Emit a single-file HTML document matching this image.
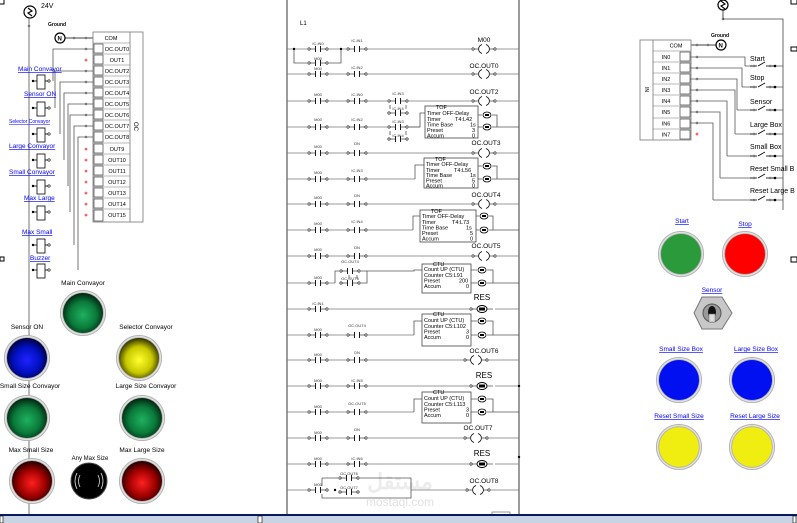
<!DOCTYPE html>
<html><head><meta charset="utf-8"><style>
html,body{margin:0;padding:0;background:#fff;width:797px;height:523px;overflow:hidden}
svg{display:block;font-family:"Liberation Sans",sans-serif}
.l{font-size:4px;fill:#333}
.t{font-size:6px;fill:#000}
.b{font-size:6.5px;fill:#000}
.lk{font-size:7px;fill:#00f;text-decoration:underline}
.lb{font-size:7px;fill:#000}
</style></head><body>
<svg width="797" height="523" viewBox="0 0 797 523" xmlns="http://www.w3.org/2000/svg">
<defs>
<g id="ct"><rect x="-11" y="-4" width="22" height="8" fill="#fff"/><line x1="-9" y1="0" x2="-3" y2="0" stroke="#555" stroke-width="0.8"/><line x1="3" y1="0" x2="9" y2="0" stroke="#555" stroke-width="0.8"/><line x1="-2.5" y1="-3" x2="-2.5" y2="3" stroke="#000" stroke-width="0.9"/><line x1="2.5" y1="-3" x2="2.5" y2="3" stroke="#000" stroke-width="0.9"/><circle cx="-9" cy="0" r="1.2" fill="#fff" stroke="#000" stroke-width="0.6"/><circle cx="9" cy="0" r="1.2" fill="#fff" stroke="#000" stroke-width="0.6"/></g>
<g id="co"><rect x="-13" y="-5" width="26" height="10" fill="#fff"/><line x1="-11" y1="0" x2="-6" y2="0" stroke="#555" stroke-width="0.8"/><line x1="6" y1="0" x2="11" y2="0" stroke="#555" stroke-width="0.8"/><path d="M-2,-4.5 A6,5 0 0 0 -2,4.5 M2,-4.5 A6,5 0 0 1 2,4.5" fill="none" stroke="#000" stroke-width="0.8"/><circle cx="-11" cy="0" r="1.2" fill="#fff" stroke="#000" stroke-width="0.6"/><circle cx="11" cy="0" r="1.2" fill="#fff" stroke="#000" stroke-width="0.6"/></g>
<g id="rs"><rect x="-13" y="-5" width="26" height="10" fill="#fff"/><line x1="-11" y1="0" x2="11" y2="0" stroke="#555" stroke-width="0.8"/><ellipse cx="0" cy="0" rx="5" ry="3.5" fill="#fff" stroke="#000" stroke-width="0.9"/><rect x="-3" y="-1.5" width="6" height="3" fill="#000"/><circle cx="-11" cy="0" r="1.2" fill="#fff" stroke="#000" stroke-width="0.6"/></g>
<g id="en"><rect x="-5" y="-3.5" width="10" height="7" fill="#fff"/><ellipse cx="0" cy="0" rx="4" ry="3" fill="#fff" stroke="#000" stroke-width="0.8"/><rect x="-2" y="-1" width="4" height="2" fill="#000"/></g>
<g id="rl"><rect x="-4" y="-6" width="8" height="14" fill="#fff" stroke="#000" stroke-width="0.8"/><line x1="-8" y1="0" x2="-4" y2="0" stroke="#000" stroke-width="0.8"/><line x1="4" y1="0" x2="8" y2="0" stroke="#000" stroke-width="0.8"/><circle cx="8" cy="0" r="1.2" fill="#fff" stroke="#000" stroke-width="0.6"/><circle cx="-8" cy="0" r="1.2" fill="#000"/></g>
<g id="sw"><line x1="-12" y1="0" x2="-5" y2="0" stroke="#000" stroke-width="0.8"/><line x1="-4" y1="0" x2="3" y2="-4" stroke="#000" stroke-width="0.8"/><line x1="4" y1="0" x2="12" y2="0" stroke="#000" stroke-width="0.8"/><circle cx="-8" cy="0" r="1" fill="#fff" stroke="#000" stroke-width="0.5"/><circle cx="8" cy="0" r="1" fill="#fff" stroke="#000" stroke-width="0.5"/><circle cx="13" cy="0" r="1.3" fill="#000"/></g>
<g id="pw"><path d="M-2,-4 L2,-1 L-2,1 L2,4" fill="none" stroke="#000" stroke-width="1.1"/></g>
<radialGradient id="gG" cx="50%" cy="55%" r="55%"><stop offset="0" stop-color="#1fb060"/><stop offset="0.6" stop-color="#0a7a3a"/><stop offset="1" stop-color="#02240f"/></radialGradient>
<radialGradient id="gB" cx="50%" cy="55%" r="55%"><stop offset="0" stop-color="#2222ff"/><stop offset="0.6" stop-color="#0010c0"/><stop offset="1" stop-color="#000038"/></radialGradient>
<radialGradient id="gY" cx="50%" cy="55%" r="55%"><stop offset="0" stop-color="#ffff30"/><stop offset="0.6" stop-color="#c8c800"/><stop offset="1" stop-color="#2e2e00"/></radialGradient>
<radialGradient id="gR" cx="50%" cy="55%" r="55%"><stop offset="0" stop-color="#ff2020"/><stop offset="0.6" stop-color="#a00000"/><stop offset="1" stop-color="#200000"/></radialGradient>
<radialGradient id="ring" cx="50%" cy="50%" r="50%"><stop offset="0.85" stop-color="#888"/><stop offset="0.93" stop-color="#eee"/><stop offset="1" stop-color="#999"/></radialGradient>
</defs>

<rect x="-2" y="-2" width="6" height="6" fill="#fff" stroke="#000"/>
<rect x="0" y="257" width="4" height="4" fill="#fff" stroke="#000"/>
<rect x="791" y="-2" width="6" height="6" fill="#fff" stroke="#000"/>
<rect x="791" y="47" width="6" height="4" fill="#fff" stroke="#000"/>

<!-- LEFT OUTPUT MODULE -->
<circle cx="30" cy="12" r="6" fill="#fff" stroke="#000" stroke-width="1.2"/><use href="#pw" x="30" y="12"/>
<text x="41" y="8" class="t" style="font-size:7px">24V</text>
<line x1="29" y1="18" x2="29" y2="523" stroke="#666" stroke-width="0.9"/>
<circle cx="29" cy="26" r="1" fill="#fff" stroke="#000" stroke-width="0.5"/>
<text x="48" y="26" class="t" style="font-size:5px;font-weight:bold">Ground</text>
<circle cx="60" cy="38" r="5" fill="#fff" stroke="#000" stroke-width="1.2"/><text x="57.5" y="40.5" style="font-size:6px;font-weight:bold">N</text>
<line x1="65" y1="38" x2="93" y2="38" stroke="#000" stroke-width="0.7"/>
<circle cx="74" cy="38" r="1" fill="#fff" stroke="#000" stroke-width="0.5"/><circle cx="86" cy="38" r="1" fill="#fff" stroke="#000" stroke-width="0.5"/>

<rect x="93" y="32" width="50" height="190" fill="#fff" stroke="#777" stroke-width="0.8"/>
<line x1="130" y1="32" x2="130" y2="222" stroke="#777" stroke-width="0.8"/>
<g stroke="#777" stroke-width="0.6">
<line x1="93" y1="43" x2="130" y2="43"/><line x1="93" y1="54" x2="130" y2="54"/><line x1="93" y1="65" x2="130" y2="65"/><line x1="93" y1="76" x2="130" y2="76"/><line x1="93" y1="87" x2="130" y2="87"/><line x1="93" y1="98" x2="130" y2="98"/><line x1="93" y1="109" x2="130" y2="109"/><line x1="93" y1="120" x2="130" y2="120"/><line x1="93" y1="131" x2="130" y2="131"/><line x1="93" y1="143" x2="130" y2="143"/><line x1="93" y1="154" x2="130" y2="154"/><line x1="93" y1="165" x2="130" y2="165"/><line x1="93" y1="176" x2="130" y2="176"/><line x1="93" y1="187" x2="130" y2="187"/><line x1="93" y1="198" x2="130" y2="198"/><line x1="93" y1="209" x2="130" y2="209"/>
</g>
<g fill="#fff" stroke="#444" stroke-width="0.7">
<rect x="94" y="44" width="9" height="9"/><rect x="94" y="55" width="9" height="9"/><rect x="94" y="66" width="9" height="9"/><rect x="94" y="77" width="9" height="9"/><rect x="94" y="88" width="9" height="9"/><rect x="94" y="99" width="9" height="9"/><rect x="94" y="110" width="9" height="9"/><rect x="94" y="121" width="9" height="9"/><rect x="94" y="132" width="9" height="10"/><rect x="94" y="144" width="9" height="9"/><rect x="94" y="155" width="9" height="9"/><rect x="94" y="166" width="9" height="9"/><rect x="94" y="177" width="9" height="9"/><rect x="94" y="188" width="9" height="9"/><rect x="94" y="199" width="9" height="9"/><rect x="94" y="210" width="9" height="11"/>
</g>
<g class="t" style="font-size:5.5px" text-anchor="middle">
<text x="111" y="40">COM</text><text x="117" y="51">OC.OUT0</text><text x="117" y="62">OUT1</text><text x="117" y="73">OC.OUT2</text><text x="117" y="84">OC.OUT3</text><text x="117" y="95">OC.OUT4</text><text x="117" y="106">OC.OUT5</text><text x="117" y="117">OC.OUT6</text><text x="117" y="128">OC.OUT7</text><text x="117" y="139">OC.OUT8</text><text x="117" y="151">OUT9</text><text x="117" y="162">OUT10</text><text x="117" y="173">OUT11</text><text x="117" y="184">OUT12</text><text x="117" y="195">OUT13</text><text x="117" y="206">OUT14</text><text x="117" y="217">OUT15</text>
</g>
<text x="0" y="0" class="t" transform="translate(134,122) rotate(90)">OC</text>
<g fill="#fff" stroke="#e00" stroke-width="0.6"><circle cx="86" cy="60" r="1"/><circle cx="86" cy="149" r="1"/><circle cx="86" cy="160" r="1"/><circle cx="86" cy="171" r="1"/><circle cx="86" cy="182" r="1"/><circle cx="86" cy="193" r="1"/><circle cx="86" cy="204" r="1"/><circle cx="86" cy="215" r="1"/></g>
<g fill="none" stroke="#555" stroke-width="0.8">
<polyline points="53,81 53,49 93,49"/><polyline points="55,108 55,71 93,71"/><polyline points="60,134 60,82 93,82"/><polyline points="64,160 64,93 93,93"/><polyline points="68,186 68,104 93,104"/><polyline points="70,212 70,115 93,115"/><polyline points="74,245 74,126 93,126"/><polyline points="78,270 78,137 93,137"/>
</g>
<g fill="#fff" stroke="#000" stroke-width="0.5"><circle cx="86" cy="49" r="1"/><circle cx="86" cy="71" r="1"/><circle cx="86" cy="82" r="1"/><circle cx="86" cy="93" r="1"/><circle cx="86" cy="104" r="1"/><circle cx="86" cy="115" r="1"/><circle cx="86" cy="126" r="1"/><circle cx="86" cy="137" r="1"/></g>
<use href="#rl" x="41" y="81"/><use href="#rl" x="41" y="108"/><use href="#rl" x="41" y="134"/><use href="#rl" x="41" y="160"/><use href="#rl" x="41" y="186"/><use href="#rl" x="41" y="212"/><use href="#rl" x="41" y="245"/><use href="#rl" x="41" y="270"/>
<g class="lk" style="font-size:6.5px">
<text x="18" y="71">Main Convayor</text><text x="24" y="96">Sensor ON</text><text x="9" y="123" style="font-size:5px">Selector Convayor</text><text x="9" y="148">Large Convayor</text><text x="9" y="174">Small Convayor</text><text x="24" y="200">Max Large</text><text x="22" y="234">Max Small</text><text x="30" y="260">Buzzer</text>
</g>

<g class="lb" text-anchor="middle" style="font-size:6.5px">
<text x="83" y="285">Main Convayor</text><text x="27" y="329">Sensor ON</text><text x="146" y="329">Selector Convayor</text><text x="30" y="388">Small Size Convayor</text><text x="146" y="388">Large Size Convayor</text><text x="31" y="452">Max Small Size</text><text x="90" y="460" style="font-size:6px">Any Max Size</text><text x="142" y="452">Max Large Size</text>
</g>
<circle cx="83" cy="313" r="23" fill="url(#ring)"/><circle cx="83" cy="313" r="20" fill="url(#gG)"/>
<circle cx="27" cy="358" r="23" fill="url(#ring)"/><circle cx="27" cy="358" r="20" fill="url(#gB)"/>
<circle cx="139" cy="358" r="23" fill="url(#ring)"/><circle cx="139" cy="358" r="20" fill="url(#gY)"/>
<circle cx="27" cy="418" r="23" fill="url(#ring)"/><circle cx="27" cy="418" r="20" fill="url(#gG)"/>
<circle cx="142" cy="418" r="23" fill="url(#ring)"/><circle cx="142" cy="418" r="20" fill="url(#gG)"/>
<circle cx="32" cy="481" r="23" fill="url(#ring)"/><circle cx="32" cy="481" r="20" fill="url(#gR)"/>
<circle cx="142" cy="481" r="23" fill="url(#ring)"/><circle cx="142" cy="481" r="20" fill="url(#gR)"/>
<circle cx="89" cy="481" r="18" fill="#000" stroke="#444"/>
<g fill="none" stroke="#ddd" stroke-width="0.8"><path d="M80,475 Q77,481 80,487 M77,473 Q73,481 77,489 M98,475 Q101,481 98,487 M101,473 Q105,481 101,489"/></g>

<!-- LADDER -->
<text x="300" y="25" class="t" style="font-size:6px">L1</text>
<line x1="287" y1="0" x2="287" y2="515" stroke="#222" stroke-width="0.9"/>
<line x1="519" y1="0" x2="519" y2="515" stroke="#222" stroke-width="0.9"/>
<g stroke="#777" stroke-width="0.8">
<line x1="287" y1="49" x2="519" y2="49"/><line x1="287" y1="74" x2="519" y2="74"/><line x1="287" y1="101" x2="519" y2="101"/><line x1="287" y1="127" x2="420" y2="127"/><line x1="287" y1="153" x2="519" y2="153"/><line x1="287" y1="179" x2="415" y2="179"/><line x1="287" y1="204" x2="519" y2="204"/><line x1="287" y1="230" x2="413" y2="230"/><line x1="287" y1="256" x2="519" y2="256"/><line x1="287" y1="283" x2="335" y2="283"/><line x1="287" y1="309" x2="519" y2="309"/><line x1="287" y1="335" x2="414" y2="335"/><line x1="287" y1="360" x2="519" y2="360"/><line x1="287" y1="386" x2="519" y2="386"/><line x1="287" y1="412" x2="414" y2="412"/><line x1="287" y1="438" x2="519" y2="438"/><line x1="287" y1="464" x2="519" y2="464"/><line x1="287" y1="490" x2="322" y2="490"/><line x1="411" y1="490" x2="519" y2="490"/>
</g>
<g fill="none" stroke="#555" stroke-width="0.8">
<polyline points="294,49 294,63 341,63 341,49"/>
<polyline points="390,101 390,113 406,113 406,101"/><polyline points="390,127 390,139 406,139 406,127"/>
<polyline points="406,127 420,127 420,113 425,113"/>
<polyline points="415,179 415,165 424,165"/><polyline points="413,230 413,216 420,216"/>
<polyline points="335,283 335,271 349,271 349,283 349,271 357,271 357,283"/><polyline points="341,271 367,271"/><polyline points="341,283 367,283 367,271 414,271 414,270 422,270"/>
<polyline points="414,335 414,321 422,321"/><polyline points="414,412 414,399 422,399"/>
<polyline points="322,478 322,498 411,498 411,478 322,478"/>
<polyline points="478,115 497,115 497,127 519,127"/><polyline points="478,127 497,127"/>
<polyline points="478,166 497,166 497,179 519,179"/><polyline points="478,179 497,179"/>
<polyline points="476,216 493,216 493,230 519,230"/><polyline points="476,230 493,230"/>
<polyline points="471,270 493,270 493,283 519,283"/><polyline points="471,283 493,283"/>
<polyline points="471,321 493,321 493,335 519,335"/><polyline points="471,335 493,335"/>
<polyline points="471,399 493,399 493,412 519,412"/><polyline points="471,412 493,412"/>
</g>
<g fill="#000"><circle cx="294" cy="49" r="1.2"/><circle cx="341" cy="49" r="1.2"/><circle cx="390" cy="101" r="1.2"/><circle cx="406" cy="101" r="1.2"/><circle cx="390" cy="127" r="1.2"/><circle cx="406" cy="127" r="1.2"/><circle cx="349" cy="271" r="1.2"/><circle cx="349" cy="283" r="1.2"/><circle cx="335" cy="490" r="1.2"/><circle cx="519" cy="386" r="1.2"/><circle cx="519" cy="457" r="1.2"/></g>
<use href="#ct" x="318" y="49"/><use href="#ct" x="357" y="49"/><use href="#ct" x="318" y="63"/>
<use href="#ct" x="318" y="74"/><use href="#ct" x="357" y="74"/>
<use href="#ct" x="318" y="101"/><use href="#ct" x="357" y="101"/><use href="#ct" x="398" y="101"/><use href="#ct" x="398" y="113"/>
<use href="#ct" x="318" y="127"/><use href="#ct" x="357" y="127"/><use href="#ct" x="398" y="127"/><use href="#ct" x="398" y="139"/>
<use href="#ct" x="318" y="153"/><use href="#ct" x="357" y="153"/>
<use href="#ct" x="318" y="179"/><use href="#ct" x="357" y="179"/>
<use href="#ct" x="318" y="204"/><use href="#ct" x="357" y="204"/>
<use href="#ct" x="318" y="230"/><use href="#ct" x="357" y="230"/>
<use href="#ct" x="318" y="256"/><use href="#ct" x="357" y="256"/>
<use href="#ct" x="318" y="283"/><use href="#ct" x="350" y="271"/><use href="#ct" x="350" y="283"/>
<use href="#ct" x="318" y="309"/>
<use href="#ct" x="318" y="335"/><use href="#ct" x="357" y="335"/>
<use href="#ct" x="318" y="360"/><use href="#ct" x="357" y="360"/>
<use href="#ct" x="318" y="386"/><use href="#ct" x="357" y="386"/>
<use href="#ct" x="318" y="412"/><use href="#ct" x="357" y="412"/>
<use href="#ct" x="318" y="438"/><use href="#ct" x="357" y="438"/>
<use href="#ct" x="318" y="464"/><use href="#ct" x="357" y="464"/>
<use href="#ct" x="318" y="490"/><use href="#ct" x="349" y="478"/><use href="#ct" x="349" y="492"/>
<g class="l" text-anchor="middle">
<text x="318" y="45">IC.IN0</text><text x="357" y="42">IC.IN1</text><text x="318" y="60">M00</text>
<text x="318" y="70">M00</text><text x="357" y="69">IC.IN2</text>
<text x="318" y="96">M00</text><text x="357" y="96">IC.IN0</text><text x="398" y="95">IC.IN3</text><text x="398" y="110">IC.IN4</text>
<text x="318" y="121">M00</text><text x="357" y="121">IC.IN2</text><text x="398" y="123">IC.IN3</text><text x="398" y="137">IC.IN4</text>
<text x="318" y="148">M00</text><text x="357" y="145">DN</text>
<text x="318" y="174">M00</text><text x="357" y="172">IC.IN3</text>
<text x="318" y="199">M00</text><text x="357" y="197">DN</text>
<text x="318" y="225">M00</text><text x="357" y="223">IC.IN4</text>
<text x="318" y="251">M00</text><text x="357" y="249">DN</text>
<text x="318" y="279">M00</text><text x="350" y="263">OC.OUT4</text><text x="350" y="280">OC.OUT5</text>
<text x="318" y="305">IC.IN1</text>
<text x="318" y="331">M00</text><text x="357" y="327">OC.OUT4</text>
<text x="318" y="356">M00</text><text x="357" y="354">DN</text>
<text x="318" y="382">M00</text><text x="357" y="382">IC.IN5</text>
<text x="318" y="408">M00</text><text x="357" y="405">OC.OUT5</text>
<text x="318" y="434">M00</text><text x="357" y="431">DN</text>
<text x="318" y="460">M00</text><text x="357" y="460">IC.IN6</text>
<text x="318" y="486">M00</text><text x="349" y="475">OC.OUT6</text><text x="349" y="489">OC.OUT7</text>
</g>
<use href="#co" x="484" y="49"/><use href="#co" x="484" y="74"/><use href="#co" x="484" y="101"/><use href="#co" x="484" y="153"/><use href="#co" x="484" y="204"/><use href="#co" x="484" y="256"/><use href="#co" x="476" y="360"/><use href="#co" x="476" y="438"/><use href="#co" x="478" y="490"/>
<use href="#rs" x="482" y="309"/><use href="#rs" x="482" y="386"/><use href="#rs" x="482" y="464"/>
<g class="b" text-anchor="middle">
<text x="484" y="42">M00</text><text x="484" y="68">OC.OUT0</text><text x="484" y="94">OC.OUT2</text><text x="486" y="145">OC.OUT3</text><text x="486" y="197">OC.OUT4</text><text x="486" y="248">OC.OUT5</text><text x="484" y="353">OC.OUT6</text><text x="478" y="430">OC.OUT7</text><text x="484" y="483">OC.OUT8</text>
<text x="482" y="300" style="font-size:8px">RES</text><text x="484" y="378" style="font-size:8px">RES</text><text x="482" y="456" style="font-size:8px">RES</text>
</g>
<g fill="#fff" stroke="#444" stroke-width="0.8">
<rect x="425" y="106" width="53" height="32"/><rect x="424" y="158" width="54" height="30"/><rect x="420" y="210" width="56" height="32"/>
<rect x="422" y="264" width="49" height="29"/><rect x="422" y="314" width="49" height="32"/><rect x="422" y="392" width="49" height="31"/>
</g>
<g class="t" style="font-size:5.5px">
<text x="436" y="109">TOF</text><text x="427" y="115">Timer OFF-Delay</text><text x="427" y="121">Timer</text><text x="455" y="121">T4:L42</text><text x="427" y="126.5">Time Base</text><text x="470" y="126.5">1s</text><text x="427" y="132">Preset</text><text x="472" y="132">3</text><text x="427" y="137.5">Accum</text><text x="472" y="137.5">0</text>
<text x="435" y="161">TOF</text><text x="426" y="166">Timer OFF-Delay</text><text x="426" y="172">Timer</text><text x="454" y="172">T4:L56</text><text x="426" y="177">Time Base</text><text x="470" y="177">1s</text><text x="426" y="182.5">Preset</text><text x="472" y="182.5">5</text><text x="426" y="187.5">Accum</text><text x="472" y="187.5">0</text>
<text x="431" y="213">TOF</text><text x="422" y="218">Timer OFF-Delay</text><text x="422" y="224">Timer</text><text x="452" y="224">T4:L73</text><text x="422" y="229.5">Time Base</text><text x="466" y="229.5">1s</text><text x="422" y="235">Preset</text><text x="470" y="235">5</text><text x="422" y="240.5">Accum</text><text x="470" y="240.5">0</text>
<text x="433" y="266">CTU</text><text x="424" y="271">Count UP (CTU)</text><text x="424" y="277">Counter C5:L91</text><text x="424" y="282.5">Preset</text><text x="459" y="282.5">200</text><text x="424" y="288">Accum</text><text x="466" y="288">0</text>
<text x="433" y="316">CTU</text><text x="424" y="322">Count UP (CTU)</text><text x="424" y="328">Counter C5:L102</text><text x="424" y="333.5">Preset</text><text x="466" y="333.5">3</text><text x="424" y="339">Accum</text><text x="466" y="339">0</text>
<text x="433" y="394">CTU</text><text x="424" y="400">Count UP (CTU)</text><text x="424" y="406">Counter C5:L113</text><text x="424" y="411.5">Preset</text><text x="466" y="411.5">3</text><text x="424" y="417">Accum</text><text x="466" y="417">0</text>
</g>
<use href="#en" x="487" y="115"/><use href="#en" x="487" y="127"/><use href="#en" x="487" y="166"/><use href="#en" x="487" y="179"/><use href="#en" x="484" y="216"/><use href="#en" x="484" y="230"/><use href="#en" x="482" y="270"/><use href="#en" x="482" y="283"/><use href="#en" x="482" y="321"/><use href="#en" x="482" y="335"/><use href="#en" x="482" y="399"/><use href="#en" x="482" y="412"/>
<text x="400" y="489" text-anchor="middle" style="font-size:22px;font-weight:bold;fill:#000;opacity:0.07">مستقل</text>
<text x="400" y="506" text-anchor="middle" style="font-size:12px;fill:#000;opacity:0.12">mostaql.com</text>
<rect x="492" y="512" width="18" height="8" fill="#fff" stroke="#555" stroke-width="0.6"/><text x="495" y="518.5" style="font-size:5px">END</text>

<!-- RIGHT INPUT MODULE -->
<circle cx="723" cy="5" r="5" fill="#fff" stroke="#000" stroke-width="1.2"/><use href="#pw" x="723" y="5"/>
<line x1="723" y1="10" x2="723" y2="19" stroke="#000" stroke-width="0.7"/><circle cx="723" cy="19" r="1" fill="#fff" stroke="#000" stroke-width="0.5"/>
<polyline points="723,19 783,19 783,210" fill="none" stroke="#444" stroke-width="0.8"/>
<text x="711" y="37" class="t" style="font-size:5px;font-weight:bold">Ground</text>
<circle cx="721" cy="45" r="5" fill="#fff" stroke="#000" stroke-width="1.2"/><text x="718.5" y="47.5" style="font-size:6px;font-weight:bold">N</text>
<line x1="690" y1="45" x2="716" y2="45" stroke="#000" stroke-width="0.7"/>
<circle cx="697" cy="45" r="1" fill="#fff" stroke="#000" stroke-width="0.5"/><circle cx="708" cy="45" r="1" fill="#fff" stroke="#000" stroke-width="0.5"/>
<rect x="640" y="40" width="51" height="100" fill="#fff" stroke="#777" stroke-width="0.8"/>
<line x1="653" y1="40" x2="653" y2="140" stroke="#777" stroke-width="0.8"/>
<g stroke="#777" stroke-width="0.6"><line x1="653" y1="51" x2="691" y2="51"/><line x1="653" y1="62" x2="691" y2="62"/><line x1="653" y1="73" x2="691" y2="73"/><line x1="653" y1="84" x2="691" y2="84"/><line x1="653" y1="95" x2="691" y2="95"/><line x1="653" y1="106" x2="691" y2="106"/><line x1="653" y1="118" x2="691" y2="118"/><line x1="653" y1="129" x2="691" y2="129"/></g>
<g fill="#fff" stroke="#444" stroke-width="0.7"><rect x="680" y="52" width="10" height="9"/><rect x="680" y="63" width="10" height="9"/><rect x="680" y="74" width="10" height="9"/><rect x="680" y="85" width="10" height="9"/><rect x="680" y="96" width="10" height="9"/><rect x="680" y="107" width="10" height="10"/><rect x="680" y="119" width="10" height="9"/><rect x="680" y="130" width="10" height="9"/></g>
<g class="t" style="font-size:5.5px" text-anchor="middle"><text x="676" y="47.5">COM</text><text x="666" y="59">IN0</text><text x="666" y="70">IN1</text><text x="666" y="81">IN2</text><text x="666" y="92">IN3</text><text x="666" y="103">IN4</text><text x="666" y="114">IN5</text><text x="666" y="125.5">IN6</text><text x="666" y="136.5">IN7</text></g>
<text x="0" y="0" class="t" style="font-size:5px" transform="translate(645,87) rotate(90)">IN</text>
<g fill="none" stroke="#555" stroke-width="0.8">
<polyline points="690,57 745,57 745,66"/><polyline points="690,68 742,68 742,87"/><polyline points="690,79 737,79 737,110"/><polyline points="690,90 735,90 735,134"/><polyline points="690,101 727,101 727,156"/><polyline points="690,112 720,112 720,178"/><polyline points="690,123 713,123 713,200"/>
<line x1="745" y1="66" x2="783" y2="66"/><line x1="742" y1="87" x2="783" y2="87"/><line x1="737" y1="110" x2="783" y2="110"/><line x1="735" y1="134" x2="783" y2="134"/><line x1="727" y1="156" x2="783" y2="156"/><line x1="720" y1="178" x2="783" y2="178"/><line x1="713" y1="200" x2="783" y2="200"/>
</g>
<g fill="#fff" stroke="#000" stroke-width="0.5"><circle cx="697" cy="57" r="1"/><circle cx="697" cy="68" r="1"/><circle cx="697" cy="79" r="1"/><circle cx="697" cy="90" r="1"/><circle cx="697" cy="101" r="1"/><circle cx="697" cy="112" r="1"/><circle cx="697" cy="123" r="1"/></g>
<circle cx="697" cy="134" r="1" fill="#fff" stroke="#e00" stroke-width="0.6"/>
<g fill="#fff"><rect x="752" y="62" width="20" height="8"/><rect x="752" y="83" width="20" height="8"/><rect x="752" y="106" width="20" height="8"/><rect x="752" y="130" width="20" height="8"/><rect x="752" y="152" width="20" height="8"/><rect x="752" y="174" width="20" height="8"/><rect x="752" y="196" width="20" height="8"/></g>
<use href="#sw" x="762" y="66"/><use href="#sw" x="762" y="87"/><use href="#sw" x="762" y="110"/><use href="#sw" x="762" y="134"/><use href="#sw" x="762" y="156"/><use href="#sw" x="762" y="178"/><use href="#sw" x="762" y="200"/>
<g class="b" style="font-size:7px"><text x="750" y="61">Start</text><text x="750" y="80">Stop</text><text x="750" y="104">Sensor</text><text x="750" y="127">Large Box</text><text x="750" y="149">Small Box</text><text x="750" y="171">Reset Small B</text><text x="750" y="193">Reset Large B</text></g>

<g class="lk" text-anchor="middle" style="font-size:6.5px">
<text x="682" y="223">Start</text><text x="745" y="226">Stop</text><text x="712" y="292">Sensor</text><text x="681" y="351">Small Size Box</text><text x="756" y="351">Large Size Box</text><text x="679" y="418">Reset Small Size</text><text x="755" y="418">Reset Large Size</text>
</g>
<circle cx="681" cy="254" r="23" fill="url(#ring)"/><circle cx="681" cy="254" r="20" fill="#2a9a3a"/>
<circle cx="745" cy="254" r="23" fill="url(#ring)"/><circle cx="745" cy="254" r="20" fill="#f00"/>
<circle cx="679" cy="380" r="23" fill="url(#ring)"/><circle cx="679" cy="380" r="20" fill="#0010f0"/>
<circle cx="752" cy="380" r="23" fill="url(#ring)"/><circle cx="752" cy="380" r="20" fill="#0010f0"/>
<circle cx="679" cy="447" r="23" fill="url(#ring)"/><circle cx="679" cy="447" r="20" fill="#f0ee10"/>
<circle cx="752" cy="447" r="23" fill="url(#ring)"/><circle cx="752" cy="447" r="20" fill="#f0ee10"/>
<polygon points="702,297 722,297 732,313 722,329 702,329 694,313" fill="#c8c8c8" stroke="#777"/>
<circle cx="712" cy="313" r="9" fill="#999" stroke="#555"/><ellipse cx="712" cy="312" rx="4" ry="6" fill="#111"/><rect x="709" y="314" width="6" height="8" fill="#ddd" stroke="#666" stroke-width="0.5"/>
<rect x="791" y="257" width="6" height="5" fill="#fff" stroke="#000"/>

<rect x="0" y="514" width="797" height="2" fill="#0a1a60"/>
<rect x="0" y="516" width="797" height="7" fill="#c8d4e4"/>
<rect x="0" y="516" width="3" height="7" fill="#fff" stroke="#000" stroke-width="0.6"/>
<rect x="258" y="516" width="4" height="7" fill="#fff" stroke="#000" stroke-width="0.6"/>
<rect x="793" y="516" width="3" height="7" fill="#fff" stroke="#000" stroke-width="0.6"/>
</svg>
</body></html>
